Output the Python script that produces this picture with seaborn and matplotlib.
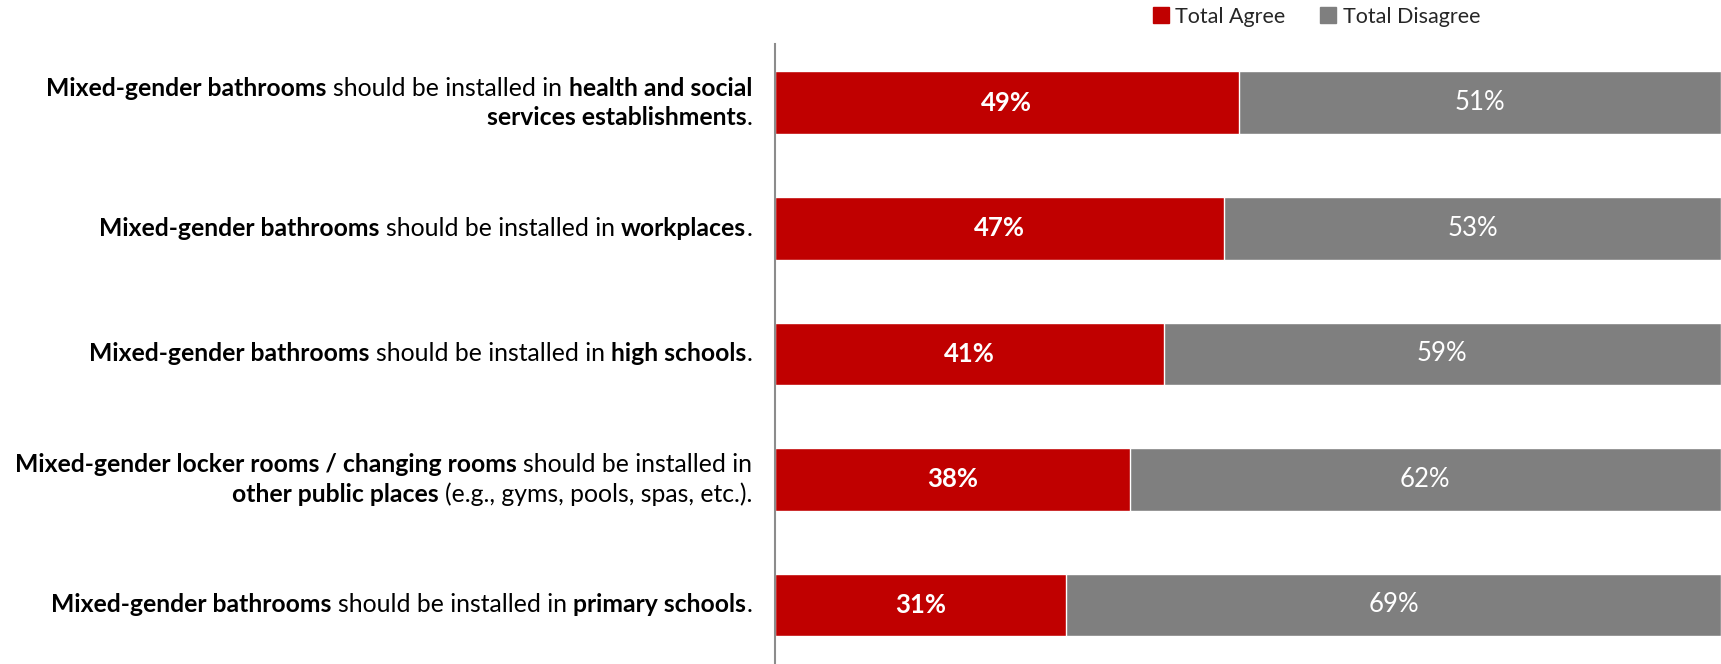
import pandas as pd
import matplotlib.pyplot as plt
import seaborn as sns
from matplotlib.patches import Patch

# Survey statements (each line is a list of (text, bold) pieces)
statements = [
    [[("Mixed-gender bathrooms", True), (" should be installed in ", False), ("health and social", True)],
     [("services establishments", True), (".", False)]],
    [[("Mixed-gender bathrooms", True), (" should be installed in ", False), ("workplaces", True), (".", False)]],
    [[("Mixed-gender bathrooms", True), (" should be installed in ", False), ("high schools", True), (".", False)]],
    [[("Mixed-gender locker rooms / changing rooms", True), (" should be installed in", False)],
     [("other public places", True), (" (e.g., gyms, pools, spas, etc.).", False)]],
    [[("Mixed-gender bathrooms", True), (" should be installed in ", False), ("primary schools", True), (".", False)]],
]
categories = ["health", "workplaces", "high schools", "other public", "primary"]
# bar lengths (unrounded share), and the printed labels
agree = [49.0, 47.5, 41.1, 37.5, 30.8]
agree_labels = [49, 47, 41, 38, 31]
disagree_labels = [51, 53, 59, 62, 69]

red = "#C00000"
gray = "#7F7F7F"
font = "Lato"
fsize = 17.8
legend_size = 15.5
value_size = 18.5

df = pd.DataFrame({"cat": categories, "agree": agree})
df["total"] = 100

sns.set_style("white")
plt.rcParams["font.family"] = [font, "DejaVu Sans"]

fig = plt.figure(figsize=(17.21, 6.64), dpi=100)
ax = fig.add_axes([0.4503, 0.0, 0.5497, 0.934])

# stacked bars: full width gray, agree part red on top
sns.barplot(data=df, y="cat", x="total", color=gray, orient="h", width=0.5,
            saturation=1, edgecolor="white", linewidth=1, ax=ax)
sns.barplot(data=df, y="cat", x="agree", color=red, orient="h", width=0.5,
            saturation=1, edgecolor="white", linewidth=1, ax=ax)

ax.set_xlim(0, 100)
ax.set_ylim(4.47, -0.47)
ax.set_xlabel("")
ax.set_ylabel("")
ax.set_xticks([])
ax.set_yticks([])
for s in ["top", "right", "bottom"]:
    ax.spines[s].set_visible(False)
ax.spines["left"].set_color("#8C8C8C")
ax.spines["left"].set_linewidth(1.5)

# data labels
for i, (a, la, ld) in enumerate(zip(agree, agree_labels, disagree_labels)):
    ax.text(a / 2, i, f"{la}%", ha="center", va="center", color="white",
            fontsize=value_size, fontweight="bold")
    ax.text(a + (100 - a) / 2, i, f"{ld}%", ha="center", va="center", color="white",
            fontsize=value_size)

# mixed bold / regular category labels, right aligned left of the axis
fig.canvas.draw()
renderer = fig.canvas.get_renderer()
W, H = fig.bbox.width, fig.bbox.height


def measure(s, bold):
    t = fig.text(0, 0, s, fontsize=fsize, fontweight="bold" if bold else "normal")
    w = t.get_window_extent(renderer).width
    t.remove()
    return w


space_w = measure("a a", False) - measure("aa", False)


def piece_width(s, bold):
    core = s.strip()
    lead = len(s) - len(s.lstrip())
    trail = len(s) - len(s.rstrip())
    return measure(core, bold) if core else 0, lead * space_w, trail * space_w


right_px = 752
line_gap = 29.6
for i, lines in enumerate(statements):
    cy = ax.transData.transform((0, i))[1]
    n = len(lines)
    for j, line in enumerate(lines):
        y = cy + (n - 1) / 2 * line_gap - j * line_gap
        parts = [piece_width(s, b) for s, b in line]
        total = sum(w + l + t for w, l, t in parts)
        x = right_px - total
        for (s, b), (w, l, t) in zip(line, parts):
            x += l
            fig.text(x / W, y / H, s.strip(), fontsize=fsize, ha="left", va="center",
                     fontweight="bold" if b else "normal", color="black")
            x += w + t

handles = [Patch(color=red, label="Total Agree"), Patch(color=gray, label="Total Disagree")]
fig.legend(handles=handles, loc="center", bbox_to_anchor=(0.765, 0.975), ncol=2,
           frameon=False, fontsize=legend_size, handlelength=0.75, handleheight=0.75,
           handletextpad=0.3, columnspacing=1.6)

fig.savefig("out.png", dpi=100, facecolor="white")
